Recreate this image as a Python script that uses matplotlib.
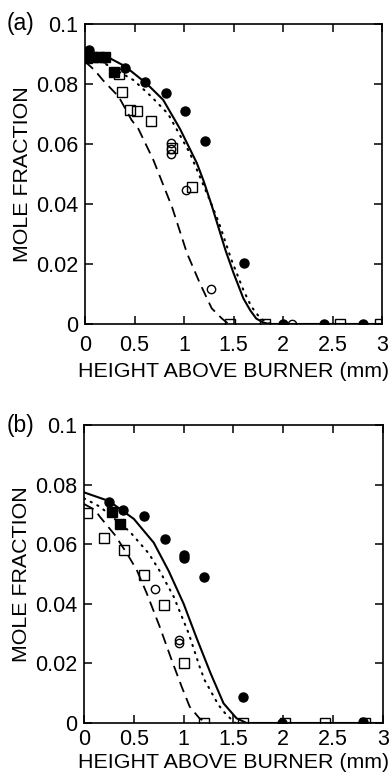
import matplotlib
matplotlib.use("Agg")
import matplotlib.pyplot as plt

plt.rcParams['font.family'] = ['Liberation Sans', 'DejaVu Sans']

# ---------------- panel (a) ----------------
a_fc_x = [0.04, 0.20, 0.40, 0.61, 0.82, 1.01, 1.21, 1.61, 2.00, 2.41, 2.81]
a_fc_y = [0.0912, 0.0886, 0.0852, 0.0808, 0.0769, 0.0711, 0.0609, 0.0203, 0.0, 0.0, 0.0]
a_fs_x = [0.02, 0.08, 0.14, 0.20, 0.29]
a_fs_y = [0.0888, 0.0890, 0.0890, 0.0890, 0.0841]
a_os_x = [0.34, 0.37, 0.45, 0.53, 0.67, 0.88, 1.08, 1.46, 1.82, 2.58, 2.98]
a_os_y = [0.0833, 0.0774, 0.0712, 0.0711, 0.0676, 0.0588, 0.0458, 0.0, 0.0, 0.0, 0.0]
a_oc_x = [0.87, 0.87, 0.87, 1.02, 1.27, 2.09]
a_oc_y = [0.0602, 0.0584, 0.0566, 0.0446, 0.0116, 0.0]

a_solid_x = [0.0, 0.10, 0.25, 0.40, 0.62, 0.79, 0.96, 1.13, 1.20, 1.28, 1.35, 1.42, 1.50, 1.60, 1.67, 1.73, 1.80, 1.86, 3.0]
a_solid_y = [0.0905, 0.0900, 0.0886, 0.0860, 0.0802, 0.0747, 0.0650, 0.0536, 0.0475, 0.0395, 0.0320, 0.0245, 0.0170, 0.0085, 0.0045, 0.0018, 0.0005, 0.0, 0.0]
a_dot_x = [0.0, 0.20, 0.49, 0.67, 0.84, 1.06, 1.26, 1.35, 1.48, 1.60, 1.68, 1.77, 1.85, 1.90]
a_dot_y = [0.0890, 0.0868, 0.0813, 0.0758, 0.0700, 0.0569, 0.0413, 0.0340, 0.0213, 0.0113, 0.0058, 0.0019, 0.0003, 0.0]
a_dash_x = [0.0, 0.10, 0.18, 0.34, 0.47, 0.54, 0.69, 0.88, 1.03, 1.16, 1.28, 1.38, 1.45]
a_dash_y = [0.0875, 0.0845, 0.0813, 0.0758, 0.0680, 0.0650, 0.0547, 0.0389, 0.0236, 0.0136, 0.0052, 0.0019, 0.0]

# ---------------- panel (b) ----------------
b_fc_x = [0.25, 0.39, 0.60, 0.81, 1.00, 1.00, 1.20, 1.60, 1.99, 2.80]
b_fc_y = [0.0740, 0.0715, 0.0695, 0.0616, 0.0564, 0.0555, 0.0490, 0.0088, 0.0, 0.0003]
b_fs_x = [0.28, 0.36]
b_fs_y = [0.0707, 0.0667]
b_os_x = [0.03, 0.20, 0.40, 0.60, 0.80, 1.00, 1.20, 1.60, 2.02, 2.42, 2.82]
b_os_y = [0.0704, 0.0620, 0.0580, 0.0497, 0.0396, 0.0202, 0.0, 0.0, 0.0, 0.0, 0.0]
b_oc_x = [0.71, 0.95, 0.95]
b_oc_y = [0.0449, 0.0278, 0.0270]

b_solid_x = [0.0, 0.25, 0.50, 0.70, 0.85, 1.00, 1.13, 1.27, 1.40, 1.53, 1.63, 3.0]
b_solid_y = [0.0774, 0.0745, 0.0685, 0.0605, 0.0510, 0.0400, 0.0285, 0.0167, 0.0066, 0.0016, 0.0, 0.0]
b_dot_x = [0.0, 0.16, 0.46, 0.65, 0.76, 0.90, 1.05, 1.16, 1.21, 1.35, 1.43, 1.52]
b_dot_y = [0.0754, 0.0726, 0.0642, 0.0569, 0.0510, 0.0424, 0.0301, 0.0189, 0.0144, 0.0060, 0.0027, 0.0]
b_dash_x = [0.0, 0.11, 0.16, 0.31, 0.44, 0.53, 0.63, 0.76, 0.88, 0.98, 1.06, 1.16, 1.24]
b_dash_y = [0.0735, 0.0715, 0.0692, 0.0631, 0.0564, 0.0513, 0.0435, 0.0323, 0.0211, 0.0122, 0.0055, 0.0015, 0.0]

x_ticks = [0, 0.5, 1, 1.5, 2, 2.5, 3]
x_ticklabels = ["0", "0.5", "1", "1.5", "2", "2.5", "3"]
y_ticks = [0, 0.02, 0.04, 0.06, 0.08, 0.1]
y_ticklabels = ["0", "0.02", "0.04", "0.06", "0.08", "0.1"]

fig = plt.figure(figsize=(3.91, 7.79), dpi=100)
ax_a = fig.add_axes([0.2174, 0.5841, 0.7596, 0.3851])
ax_b = fig.add_axes([0.2148, 0.0719, 0.7647, 0.3825])


def draw(ax, fc, fs, os_, oc, solid, dot, dash, tag, xpad, xlabelpad):
    ax.plot(solid[0], solid[1], color='black', lw=1.5, solid_joinstyle='round', zorder=2)
    ax.plot(dot[0], dot[1], color='black', lw=1.5, dashes=(0.6, 3.0), dash_capstyle='round', zorder=2)
    ax.plot(dash[0], dash[1], color='black', lw=1.3, dashes=(6, 3.5), zorder=2)
    ax.plot(os_[0], os_[1], ls='none', marker='s', ms=7, mfc='none', mec='black', mew=1.0, zorder=3)
    ax.plot(oc[0], oc[1], ls='none', marker='o', ms=6, mfc='none', mec='black', mew=1.0, zorder=3)
    ax.plot(fs[0], fs[1], ls='none', marker='s', ms=7, mfc='black', mec='black', zorder=4)
    ax.plot(fc[0], fc[1], ls='none', marker='o', ms=6.5, mfc='black', mec='black', zorder=4)
    ax.set_xlim(0, 3)
    ax.set_ylim(0, 0.1)
    ax.set_xticks(x_ticks)
    ax.set_xticklabels(x_ticklabels)
    ax.set_yticks(y_ticks)
    ax.set_yticklabels(y_ticklabels)
    ax.tick_params(direction='in', top=True, right=True, length=6, width=1.1,
                   labelsize=15.5, pad=5)
    ax.tick_params(axis='x', pad=xpad)
    for s in ax.spines.values():
        s.set_linewidth(1.2)
    ax.set_xlabel("HEIGHT ABOVE BURNER (mm)", fontsize=15.4, labelpad=xlabelpad)
    ax.set_ylabel("MOLE FRACTION", fontsize=15.4, labelpad=3)
    ax.text(7 / 391, ax.get_position().y1, tag, transform=fig.transFigure,
            fontsize=16.5, ha='left', va='center')


draw(ax_a, (a_fc_x, a_fc_y), (a_fs_x, a_fs_y), (a_os_x, a_os_y), (a_oc_x, a_oc_y),
     (a_solid_x, a_solid_y), (a_dot_x, a_dot_y), (a_dash_x, a_dash_y), "(a)", 8, 4)
draw(ax_b, (b_fc_x, b_fc_y), (b_fs_x, b_fs_y), (b_os_x, b_os_y), (b_oc_x, b_oc_y),
     (b_solid_x, b_solid_y), (b_dot_x, b_dot_y), (b_dash_x, b_dash_y), "(b)", 4.5, 2)

fig.savefig("out.png", dpi=100)
